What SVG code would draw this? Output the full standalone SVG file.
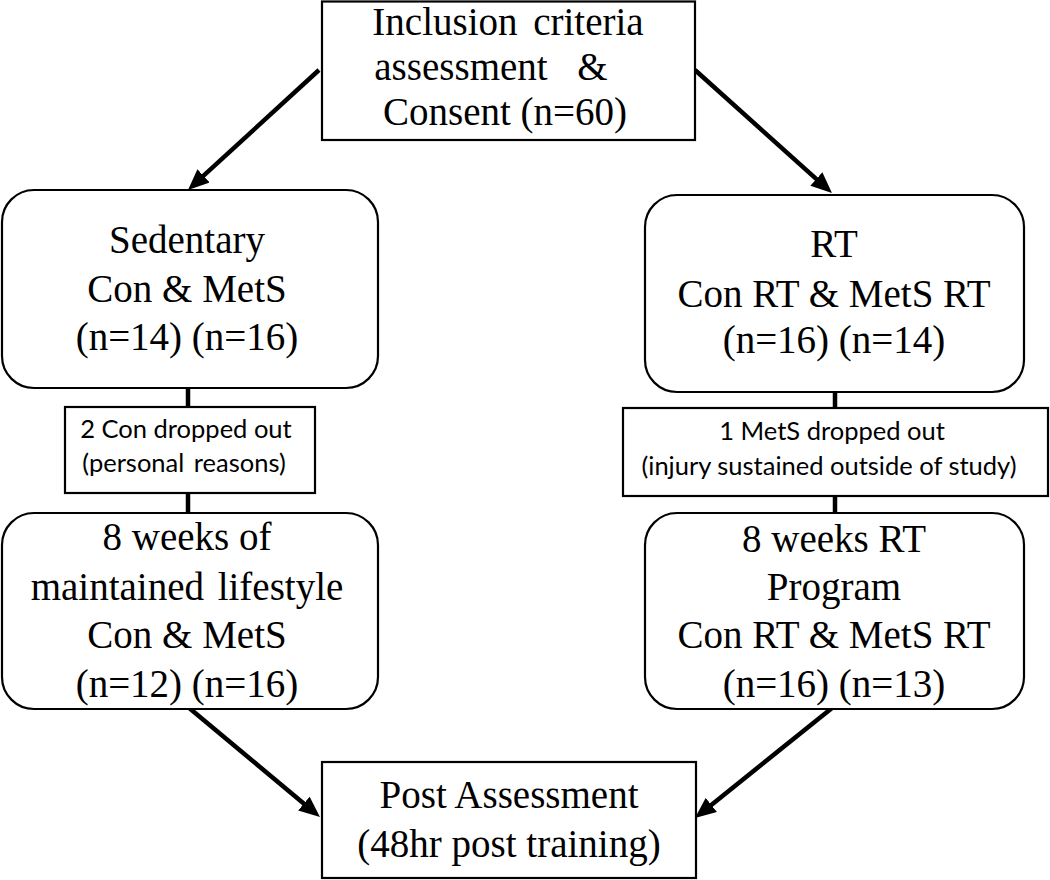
<svg xmlns="http://www.w3.org/2000/svg" width="1050" height="880" viewBox="0 0 1050 880">
<defs>
<style>
.box{fill:#fff;stroke:#000;stroke-width:2.2}
.conn{stroke:#000;stroke-width:4.5;fill:none}
.serif{font-family:"Liberation Serif","Times New Roman",serif;font-size:39px;fill:#000;text-anchor:middle}
.sans{font-family:Lato,"Open Sans",sans-serif;font-size:25.5px;fill:#000;text-anchor:middle}
</style>
<marker id="ah" markerUnits="userSpaceOnUse" markerWidth="22" markerHeight="18" viewBox="0 0 22 18" refX="8" refY="9" orient="auto">
<path d="M0,0 L21,9 L0,18 z" fill="#000"/>
</marker>
</defs>
<rect width="1050" height="880" fill="#fff"/>
<g id="connectors">
<line class="conn" x1="319" y1="70" x2="197.6" y2="181.2" marker-end="url(#ah)"/>
<line class="conn" x1="695" y1="70" x2="822.3" y2="184.3" marker-end="url(#ah)"/>
<line class="conn" x1="188" y1="388" x2="188" y2="407"/>
<line class="conn" x1="188" y1="493" x2="188" y2="513"/>
<line class="conn" x1="835" y1="392" x2="835" y2="408"/>
<line class="conn" x1="835" y1="496" x2="835" y2="513"/>
<line class="conn" x1="188" y1="707" x2="310" y2="808.7" marker-end="url(#ah)"/>
<line class="conn" x1="832" y1="708" x2="705.1" y2="809.9" marker-end="url(#ah)"/>
</g>
<g id="inclusion">
<rect class="box" x="322" y="1.5" width="373" height="138.5"/>
<text class="serif" x="508" y="35" word-spacing="6">Inclusion criteria</text>
<text class="serif" x="491" y="80" word-spacing="20">assessment &amp;</text>
<text class="serif" x="505" y="125">Consent (n=60)</text>
</g>
<g id="sedentary">
<rect class="box" x="2" y="190" width="376" height="198" rx="32" ry="32"/>
<text class="serif" x="187" y="253">Sedentary</text>
<text class="serif" x="187" y="302">Con &amp; MetS</text>
<text class="serif" x="187" y="350">(n=14) (n=16)</text>
</g>
<g id="drop-con">
<rect class="box" x="65" y="407" width="250" height="86"/>
<text class="sans" x="186" y="438">2 Con dropped out</text>
<text class="sans" x="184" y="472" word-spacing="3">(personal reasons)</text>
</g>
<g id="maintained">
<rect class="box" x="2" y="513" width="376" height="196" rx="32" ry="32"/>
<text class="serif" x="187" y="550">8 weeks of</text>
<text class="serif" x="187" y="600" word-spacing="4">maintained lifestyle</text>
<text class="serif" x="187" y="648">Con &amp; MetS</text>
<text class="serif" x="187" y="697">(n=12) (n=16)</text>
</g>
<g id="rt">
<rect class="box" x="645" y="195" width="379" height="197" rx="32" ry="32"/>
<text class="serif" x="834" y="257">RT</text>
<text class="serif" x="834" y="307">Con RT &amp; MetS RT</text>
<text class="serif" x="834" y="353">(n=16) (n=14)</text>
</g>
<g id="drop-mets">
<rect class="box" x="623" y="408" width="425" height="88"/>
<text class="sans" x="832" y="440">1 MetS dropped out</text>
<text class="sans" x="829" y="475">(injury sustained outside of study)</text>
</g>
<g id="rt-program">
<rect class="box" x="645" y="513" width="379" height="196" rx="32" ry="32"/>
<text class="serif" x="834" y="552">8 weeks RT</text>
<text class="serif" x="834" y="600">Program</text>
<text class="serif" x="834" y="648">Con RT &amp; MetS RT</text>
<text class="serif" x="834" y="697">(n=16) (n=13)</text>
</g>
<g id="post">
<rect class="box" x="322" y="762" width="374" height="116"/>
<text class="serif" x="509" y="808">Post Assessment</text>
<text class="serif" x="509" y="857">(48hr post training)</text>
</g>
</svg>
